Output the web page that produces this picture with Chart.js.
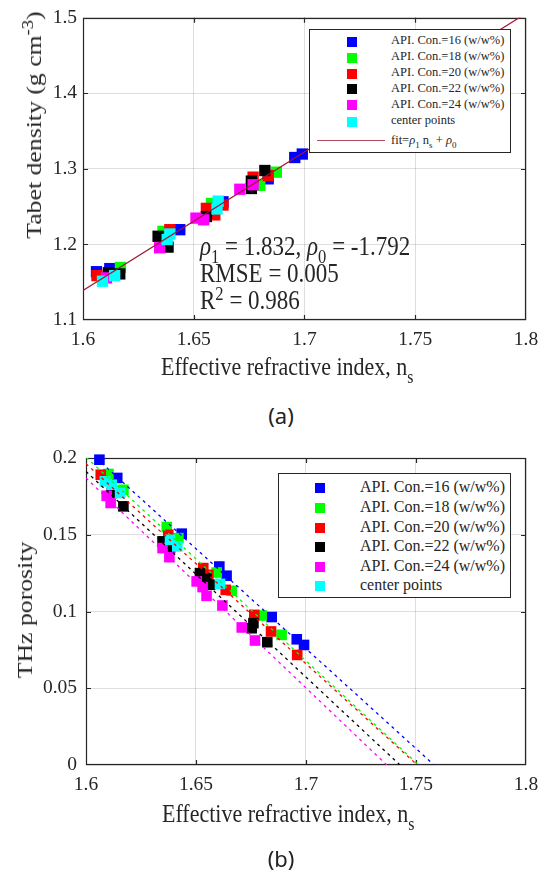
<!DOCTYPE html>
<html>
<head>
<meta charset="utf-8">
<script src="https://cdn.jsdelivr.net/npm/chart.js@4.4.1/dist/chart.umd.min.js"></script>
<style>
  html, body { margin: 0; padding: 0; background: #fff; }
  #wrap { position: relative; width: 547px; height: 874px; overflow: hidden; }
  canvas { position: absolute; left: 0; }
  .serif { font-family: "Liberation Serif", "Times New Roman", serif; color: #262626; }
  .txt { position: absolute; white-space: nowrap; line-height: 1; }
  .tall { transform-origin: 0 84%; transform: scale(1, 1.15); }
  .ylab { transform: translate(-50%, -50%) rotate(-90deg) scale(1.17, 1); }
  .panel { font-family: "Noto Sans", sans-serif; font-size: 22px; color: #222; transform: translate(-50%, -50%); }
  sub, sup { font-size: 0.72em; line-height: 0; position: relative; vertical-align: baseline; }
  sub { top: 0.45em; }
  sup { top: -0.5em; }
  .legend { position: absolute; background: #fff; border: 1px solid #262626; box-sizing: border-box; }
  .legend .row { position: absolute; left: 0; right: 0; white-space: nowrap; }
  .legend .sq { position: absolute; }
  .legend .lab { position: absolute; line-height: 1; }
</style>
</head>
<body>
<div id="wrap">
  <canvas id="density-chart" width="547" height="400" style="top:0"></canvas>
  <canvas id="porosity-chart" width="547" height="380" style="top:430px"></canvas>

  <!-- (a) texts -->
  <div class="txt serif ylab" style="left:34px; top:125px; font-size:22px">Tabet density (g cm<sup>-3</sup>)</div>
  <div class="txt serif tall" style="left:161px; top:357px; font-size:22px">Effective refractive index, n<sub>s</sub></div>
  <div class="txt serif tall" style="left:200px; top:236px; font-size:23px"><i>ρ</i><sub>1</sub> = 1.832, <i>ρ</i><sub>0</sub> = -1.792</div>
  <div class="txt serif tall" style="left:200px; top:263px; font-size:23px">RMSE = 0.005</div>
  <div class="txt serif tall" style="left:200px; top:290px; font-size:23px">R<sup>2</sup> = 0.986</div>
  <div class="txt panel" style="left:281px; top:415px">(a)</div>
  <div id="legend-a" class="legend serif" style="left:309px; top:29px; width:202px; height:124px"></div>

  <!-- (b) texts -->
  <div class="txt serif ylab" style="left:25px; top:610px; font-size:22px">THz porosity</div>
  <div class="txt serif tall" style="left:162px; top:804px; font-size:22px">Effective refractive index, n<sub>s</sub></div>
  <div class="txt panel" style="left:281px; top:858px">(b)</div>
  <div id="legend-b" class="legend serif" style="left:278px; top:473px; width:233px; height:125px"></div>
</div>

<script>
// ======================= DATA =======================
const seriesNames  = ['API. Con.=16 (w/w%)', 'API. Con.=18 (w/w%)', 'API. Con.=20 (w/w%)',
                      'API. Con.=22 (w/w%)', 'API. Con.=24 (w/w%)', 'center points'];
const seriesColors = ['#0000ff', '#00ff00', '#ff0000', '#000000', '#ff00ff', '#00ffff'];

const xTicks  = [1.6, 1.65, 1.7, 1.75, 1.8];
const xLabels = ['1.6', '1.65', '1.7', '1.75', '1.8'];
const yTicksA  = [1.1, 1.2, 1.3, 1.4, 1.5];
const yLabelsA = ['1.1', '1.2', '1.3', '1.4', '1.5'];
const yTicksB  = [0, 0.05, 0.1, 0.15, 0.2];
const yLabelsB = ['0', '0.05', '0.1', '0.15', '0.2'];

// (a) tablet density vs effective refractive index
const ns16 = [1.6061, 1.6121, 1.6437, 1.6632, 1.6836, 1.6956, 1.6990];
const rho16 = [1.1639, 1.1680, 1.2195, 1.2564, 1.2868, 1.3150, 1.3196];
const ns18 = [1.6169, 1.6361, 1.6580, 1.6798, 1.6873];
const rho18 = [1.1695, 1.2173, 1.2542, 1.2782, 1.2956];
const ns20 = [1.6063, 1.6392, 1.6557, 1.6595, 1.6632, 1.6768, 1.6836];
const rho20 = [1.1587, 1.2195, 1.2477, 1.2391, 1.2521, 1.2890, 1.2912];
const ns22 = [1.6115, 1.6166, 1.6339, 1.6384, 1.6557, 1.6760, 1.6760, 1.6821];
const rho22 = [1.1625, 1.1610, 1.2108, 1.1965, 1.2369, 1.2838, 1.2740, 1.2978];
const ns24 = [1.6106, 1.6346, 1.6510, 1.6545, 1.6708, 1.6768];
const rho24 = [1.1557, 1.1956, 1.2348, 1.2326, 1.2730, 1.2790];
const nsC = [1.6088, 1.6143, 1.6380, 1.6392, 1.6605, 1.6610];
const rhoC = [1.1513, 1.1587, 1.2065, 1.2138, 1.2469, 1.2573];
// fit line rho = 1.832 ns - 1.792 (ends)
const fitNs = [1.6, 1.8];
const fitRho = [1.1392, 1.5056];

// (b) THz porosity vs effective refractive index
const nsB16 = [1.6061, 1.6142, 1.6435, 1.6606, 1.6639, 1.6844, 1.6958, 1.6991];
const por16 = [0.1989, 0.1870, 0.1507, 0.1293, 0.1233, 0.0964, 0.0819, 0.0782];
const nsB18 = [1.6102, 1.6170, 1.6367, 1.6420, 1.6594, 1.6662, 1.6798, 1.6889];
const por18 = [0.1896, 0.1793, 0.1550, 0.1478, 0.1254, 0.1135, 0.0974, 0.0848];
const nsB20 = [1.6067, 1.6374, 1.6533, 1.6556, 1.6635, 1.6765, 1.6841, 1.6960];
const por20 = [0.1891, 0.1500, 0.1283, 0.1239, 0.1141, 0.0978, 0.0870, 0.0717];
const nsB22 = [1.6117, 1.6170, 1.6348, 1.6382, 1.6518, 1.6548, 1.6564, 1.6761, 1.6753, 1.6824];
const por22 = [0.1772, 0.1685, 0.1457, 0.1413, 0.1250, 0.1217, 0.1174, 0.0924, 0.0891, 0.0800];
const nsB24 = [1.6094, 1.6112, 1.6348, 1.6379, 1.6503, 1.6530, 1.6548, 1.6620, 1.6708, 1.6768];
const por24 = [0.1754, 0.1707, 0.1413, 0.1354, 0.1196, 0.1159, 0.1102, 0.1039, 0.0896, 0.0811];
const nsBC = [1.6086, 1.6117, 1.6155, 1.6382, 1.6415, 1.6609];
const porC = [0.1848, 0.1826, 0.1772, 0.1467, 0.1424, 0.1180];
// dashed trend lines: porosity at ns = 1.6 and ns where porosity hits 0
const trendStartNs = 1.6;
const trendStartPor = [0.2060, 0.2005, 0.1963, 0.1913, 0.1870];
const trendZeroNs = [1.7582, 1.7512, 1.7506, 1.7427, 1.7367];

// ======================= HELPERS =======================
const FONT = '"Liberation Serif", "Times New Roman", serif';
const AXIS_COLOR = '#262626';
const GRID_COLOR = 'rgba(0,0,0,0.13)';

function pairs(xs, ys) {
    return xs.map((x, i) => ({ x: x, y: ys[i] }));
}

function scatterSet(i, xs, ys, radius) {
    return {
        label: seriesNames[i],
        data: pairs(xs, ys),
        backgroundColor: seriesColors[i],
        borderColor: seriesColors[i],
        pointStyle: 'rect',
        pointRadius: radius,
        pointBorderWidth: 0,
        showLine: false,
        clip: false,
        order: 10 - i            // later series drawn on top, like MATLAB
    };
}

// box around the plot + inward tick marks
const boxPlugin = {
    id: 'box',
    beforeDatasetsDraw(chart) {
        const { ctx, chartArea: a, scales } = chart;
        ctx.save();
        ctx.strokeStyle = AXIS_COLOR;
        ctx.lineWidth = 1.2;
        ctx.strokeRect(Math.round(a.left) + 0.5, Math.round(a.top) + 0.5,
                       Math.round(a.right - a.left) - 1, Math.round(a.bottom - a.top) - 1);
        ctx.beginPath();
        scales.x.ticks.forEach((t, k) => {
            if (k === 0 || k === scales.x.ticks.length - 1) return;
            const px = Math.round(scales.x.getPixelForValue(t.value)) + 0.5;
            ctx.moveTo(px, a.bottom); ctx.lineTo(px, a.bottom - 5);
            ctx.moveTo(px, a.top); ctx.lineTo(px, a.top + 5);
        });
        scales.y.ticks.forEach((t, k) => {
            if (k === 0 || k === scales.y.ticks.length - 1) return;
            const py = Math.round(scales.y.getPixelForValue(t.value)) + 0.5;
            ctx.moveTo(a.left, py); ctx.lineTo(a.left + 5, py);
            ctx.moveTo(a.right, py); ctx.lineTo(a.right - 5, py);
        });
        ctx.stroke();
        ctx.restore();
    }
};

function makeOptions(cfg) {
    return {
        responsive: false,
        animation: false,
        events: [],
        layout: { padding: { top: cfg.top, right: cfg.right, left: 0, bottom: 0 } },
        plugins: { legend: { display: false }, tooltip: { enabled: false } },
        scales: {
            x: {
                type: 'linear', min: 1.6, max: 1.8,
                afterBuildTicks: s => { s.ticks = xTicks.map(v => ({ value: v })); },
                afterFit: s => { s.height = cfg.xHeight; },
                ticks: { callback: (v, i) => xLabels[i], font: { family: FONT, size: 19.5 },
                         color: AXIS_COLOR, padding: 8, maxRotation: 0, autoSkip: false },
                grid: { color: GRID_COLOR, drawTicks: false },
                border: { display: false }
            },
            y: {
                type: 'linear', min: cfg.yMin, max: cfg.yMax,
                afterBuildTicks: s => { s.ticks = cfg.yTicks.map(v => ({ value: v })); },
                afterFit: s => { s.width = cfg.yWidth; },
                ticks: { callback: (v, i) => cfg.yLabels[i], font: { family: FONT, size: 19.5 },
                         color: AXIS_COLOR, padding: cfg.yPad, autoSkip: false },
                grid: { color: GRID_COLOR, drawTicks: false },
                border: { display: false }
            }
        }
    };
}

function buildLegend(el, cfg) {
    seriesNames.forEach((name, i) => {
        const row = document.createElement('div');
        row.className = 'row';
        row.style.top = (cfg.rows[i] - 8) + 'px';
        row.style.height = '16px';
        const sq = document.createElement('span');
        sq.className = 'sq';
        sq.style.left = (cfg.sqX - cfg.sq / 2) + 'px';
        sq.style.top = (8 - cfg.sq / 2) + 'px';
        sq.style.width = cfg.sq + 'px';
        sq.style.height = cfg.sq + 'px';
        sq.style.background = seriesColors[i];
        const lab = document.createElement('span');
        lab.className = 'lab';
        lab.style.left = cfg.textX + 'px';
        lab.style.fontSize = cfg.font + 'px';
        lab.style.top = (8 - cfg.font / 2 - 1) + 'px';
        lab.textContent = name;
        row.appendChild(sq);
        row.appendChild(lab);
        el.appendChild(row);
    });
}

// ======================= (a) DENSITY =======================
const densitySets = [
    scatterSet(0, ns16, rho16, 8),
    scatterSet(1, ns18, rho18, 8),
    scatterSet(2, ns20, rho20, 8),
    scatterSet(3, ns22, rho22, 8),
    scatterSet(4, ns24, rho24, 8),
    scatterSet(5, nsC, rhoC, 8),
    {
        label: 'fit',
        data: pairs(fitNs, fitRho),
        showLine: true,
        borderColor: '#a2142f',
        borderWidth: 1.2,
        pointRadius: 0,
        order: 0
    }
];

new Chart(document.getElementById('density-chart'), {
    type: 'scatter',
    data: { datasets: densitySets },
    options: makeOptions({ top: 13, right: 21, xHeight: 80, yWidth: 83, yPad: 6,
                           yMin: 1.1, yMax: 1.5, yTicks: yTicksA, yLabels: yLabelsA }),
    plugins: [boxPlugin]
});

// ======================= (b) POROSITY =======================
const porXs = [nsB16, nsB18, nsB20, nsB22, nsB24, nsBC];
const porYs = [por16, por18, por20, por22, por24, porC];
const porositySets = porXs.map((xs, i) => scatterSet(i, xs, porYs[i], 7.5));

trendStartPor.forEach((p0, i) => {
    porositySets.push({
        label: seriesNames[i] + ' trend',
        data: [{ x: trendStartNs, y: p0 }, { x: trendZeroNs[i], y: 0 }],
        showLine: true,
        borderColor: seriesColors[i],
        borderWidth: 1.3,
        borderDash: [3, 4],
        pointRadius: 0,
        order: 0
    });
});

new Chart(document.getElementById('porosity-chart'), {
    type: 'scatter',
    data: { datasets: porositySets },
    options: makeOptions({ top: 28, right: 21, xHeight: 45, yWidth: 86, yPad: 9,
                           yMin: 0, yMax: 0.2, yTicks: yTicksB, yLabels: yLabelsB }),
    plugins: [boxPlugin]
});

// ======================= LEGENDS =======================
const legendA = document.getElementById('legend-a');
buildLegend(legendA, { rows: [11.7, 27.7, 43.7, 59.3, 75.3, 91.7], sqX: 42, sq: 10, textX: 81, font: 12.5 });
const fitRow = document.createElement('div');
fitRow.className = 'row';
fitRow.style.top = (111 - 8) + 'px';
fitRow.style.height = '16px';
fitRow.innerHTML =
    '<span class="sq" style="left:7px; top:7px; width:68px; height:0; border-top:1.5px solid #b0485f"></span>' +
    '<span class="lab" style="left:81px; top:1px; font-size:12.5px">fit=<i>ρ</i><sub>1</sub> n<sub>s</sub> + <i>ρ</i><sub>0</sub></span>';
legendA.appendChild(fitRow);

buildLegend(document.getElementById('legend-b'),
            { rows: [14, 34, 54, 73, 93, 112], sqX: 41, sq: 10.5, textX: 81, font: 16 });
</script>
</body>
</html>
